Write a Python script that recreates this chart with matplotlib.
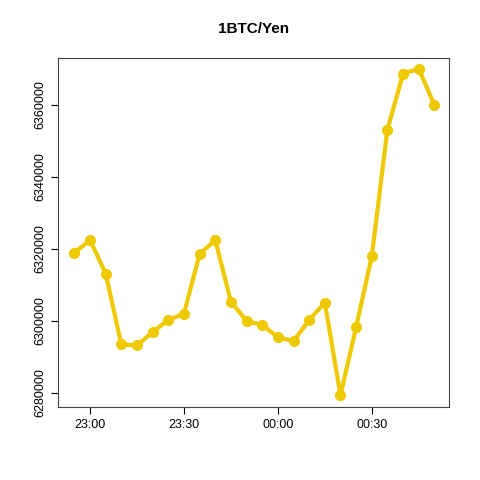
import matplotlib
matplotlib.use("Agg")
import matplotlib.pyplot as plt

minutes = [-5, 0, 5, 10, 15, 20, 25, 30, 35, 40, 45, 50, 55, 60, 65, 70, 75, 80, 85, 90, 95, 100, 105, 110]
prices = [6318900, 6322500, 6313200, 6293500, 6293200, 6296900, 6300300, 6302000,
          6318600, 6322500, 6305400, 6300000, 6298900, 6295500, 6294400, 6300300,
          6305100, 6279400, 6298300, 6318000, 6353200, 6368700, 6370100, 6360000]
xticks = [0, 30, 60, 90]
xticklabels = ["23:00", "23:30", "00:00", "00:30"]
yticks = [6280000, 6300000, 6320000, 6340000, 6360000]

plt.rcParams['font.family'] = ['Liberation Sans', 'DejaVu Sans']
fig = plt.figure(figsize=(4.8, 4.8), dpi=100)
ax = fig.add_axes([0.121, 0.152, 0.814, 0.727])
ax.plot(minutes, prices, color="#EEC900", lw=3, marker="o", ms=7)
ax.set_xlim(-10.2, 114.6)
ax.set_ylim(6276100, 6373050)
ax.set_xticks(xticks)
ax.set_xticklabels(xticklabels, fontsize=9)
ax.set_yticks(yticks)
ax.set_yticklabels([str(v) for v in yticks], rotation=90, va="center", fontsize=9)
ax.tick_params(direction="out", length=5)
for s in ax.spines.values():
    s.set_color("#444444")
ax.set_title("1BTC/Yen", fontweight="bold", fontsize=11, pad=18)
fig.savefig("out.png", dpi=100)
